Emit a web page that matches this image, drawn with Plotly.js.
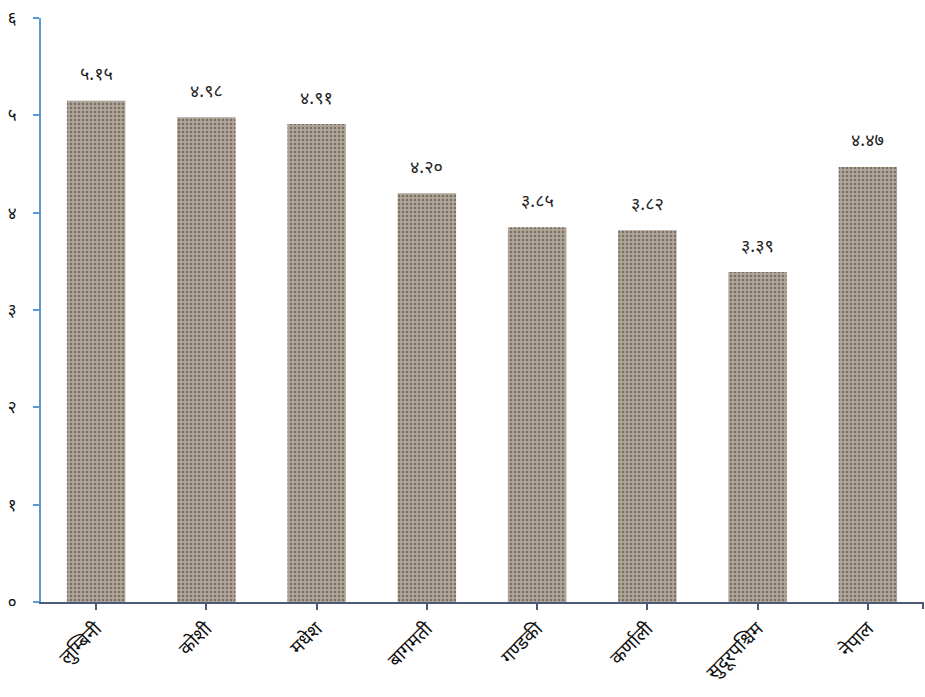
<!DOCTYPE html>
<html><head><meta charset="utf-8">
<script src="https://cdn.plot.ly/plotly-3.0.1.min.js"></script>
<style>html,body{margin:0;padding:0;background:#fff}</style>
</head><body>
<div id="chart" style="width:925px;height:697px"></div>
<script>
const categories = ['लुम्बिनी','कोशी','मधेश','बागमती','गण्डकी','कर्णाली','सुदूरपश्चिम','नेपाल'];
const values = [5.15, 4.98, 4.91, 4.20, 3.85, 3.82, 3.39, 4.47];
const valueLabels = ['५.१५','४.९८','४.९१','४.२०','३.८५','३.८२','३.३९','४.४७'];
const yTickVals = [0,1,2,3,4,5,6];
const yTickText = ['०','१','२','३','४','५','६'];

const font = "'Noto Sans Devanagari','Lohit Devanagari','FreeSans','Noto Sans', sans-serif";

const trace = {
  type: 'bar', x: categories, y: values, width: 0.53,
  marker: {
    color: '#a3978a',
    pattern: {shape: '.', fgcolor: '#7a6e63', bgcolor: '#b0a598', size: 4, solidity: 0.3, fillmode: 'replace'},
    line: {width: 0}
  },
  hoverinfo: 'none'
};

const annotations = categories.map((c, i) => ({
  x: c, y: values[i], text: valueLabels[i], showarrow: false,
  yshift: 25, font: {family: font, size: 18, color: '#222'}
}));

const layout = {
  width: 925, height: 697,
  margin: {l: 41, r: 2, t: 18, b: 95},
  paper_bgcolor: '#fff', plot_bgcolor: '#fff',
  showlegend: false,
  xaxis: {
    type: 'category', range: [-0.5, 7.5],
    showline: true, linecolor: '#4a5a78', linewidth: 2,
    ticks: 'outside', ticklen: 6, tickcolor: '#4a5a78', tickwidth: 2,
    tickangle: -45, tickfont: {family: font, size: 19, color: '#111'},
    showgrid: false, zeroline: false, fixedrange: true
  },
  yaxis: {
    range: [0, 6], tickvals: yTickVals, ticktext: yTickText,
    showline: true, linecolor: '#5b9bd5', linewidth: 2,
    ticks: 'outside', ticklen: 6, tickcolor: '#5b9bd5', tickwidth: 2,
    ticklabelstandoff: 13,
    tickfont: {family: font, size: 17, color: '#111'},
    showgrid: false, zeroline: false, fixedrange: true
  },
  shapes: [{type: 'line', xref: 'paper', yref: 'paper', x0: 1, x1: 1, y0: -0.012, y1: 0, line: {color: '#4a5a78', width: 2}}],
  annotations: annotations
};
Plotly.newPlot('chart', [trace], layout, {displayModeBar: false, staticPlot: true});
</script>
</body></html>
